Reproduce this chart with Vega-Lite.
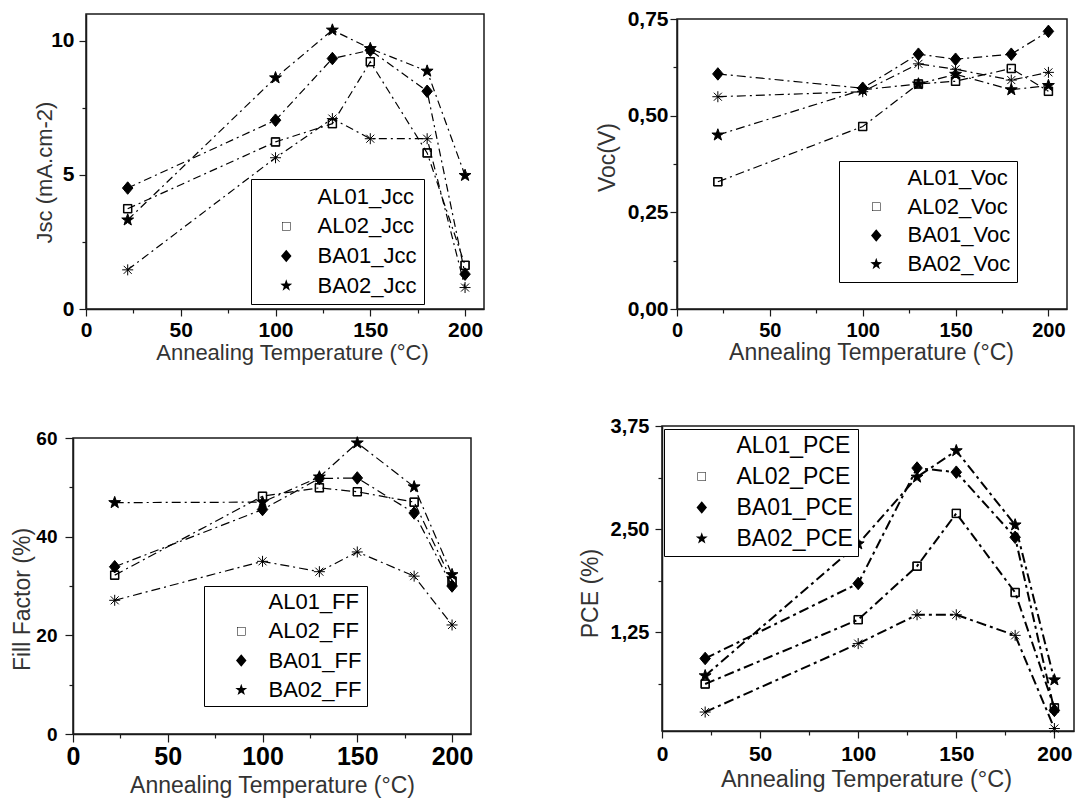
{
  "$schema": "https://vega.github.io/schema/vega-lite/v6.json",
  "background": "white",
  "padding": {"left": 10, "top": 7, "right": 2, "bottom": 2},
  "datasets": {
    "pv": [
      {"T": 22, "s": "AL01", "Jsc": 1.46, "Voc": 0.549, "FF": 27.1, "PCE": 0.28},
      {"T": 100, "s": "AL01", "Jsc": 5.64, "Voc": 0.562, "FF": 35.0, "PCE": 1.11},
      {"T": 130, "s": "AL01", "Jsc": 7.10, "Voc": 0.634, "FF": 32.9, "PCE": 1.46},
      {"T": 150, "s": "AL01", "Jsc": 6.35, "Voc": 0.620, "FF": 36.9, "PCE": 1.46},
      {"T": 180, "s": "AL01", "Jsc": 6.35, "Voc": 0.592, "FF": 32.0, "PCE": 1.21},
      {"T": 200, "s": "AL01", "Jsc": 0.80, "Voc": 0.612, "FF": 22.1, "PCE": 0.08},
      {"T": 22, "s": "AL02", "Jsc": 3.74, "Voc": 0.329, "FF": 32.2, "PCE": 0.62},
      {"T": 100, "s": "AL02", "Jsc": 6.23, "Voc": 0.472, "FF": 48.2, "PCE": 1.40},
      {"T": 130, "s": "AL02", "Jsc": 6.91, "Voc": 0.582, "FF": 49.9, "PCE": 2.05},
      {"T": 150, "s": "AL02", "Jsc": 9.22, "Voc": 0.589, "FF": 49.1, "PCE": 2.69},
      {"T": 180, "s": "AL02", "Jsc": 5.82, "Voc": 0.622, "FF": 47.0, "PCE": 1.73},
      {"T": 200, "s": "AL02", "Jsc": 1.63, "Voc": 0.563, "FF": 31.0, "PCE": 0.33},
      {"T": 22, "s": "BA01", "Jsc": 4.51, "Voc": 0.608, "FF": 33.9, "PCE": 0.93},
      {"T": 100, "s": "BA01", "Jsc": 7.04, "Voc": 0.571, "FF": 45.5, "PCE": 1.84},
      {"T": 130, "s": "BA01", "Jsc": 9.34, "Voc": 0.659, "FF": 51.8, "PCE": 3.24},
      {"T": 150, "s": "BA01", "Jsc": 9.65, "Voc": 0.646, "FF": 51.9, "PCE": 3.19},
      {"T": 180, "s": "BA01", "Jsc": 8.12, "Voc": 0.659, "FF": 44.8, "PCE": 2.40},
      {"T": 200, "s": "BA01", "Jsc": 1.30, "Voc": 0.718, "FF": 30.0, "PCE": 0.30},
      {"T": 22, "s": "BA02", "Jsc": 3.32, "Voc": 0.450, "FF": 46.9, "PCE": 0.72},
      {"T": 100, "s": "BA02", "Jsc": 8.62, "Voc": 0.567, "FF": 47.0, "PCE": 2.32},
      {"T": 130, "s": "BA02", "Jsc": 10.40, "Voc": 0.582, "FF": 52.1, "PCE": 3.13},
      {"T": 150, "s": "BA02", "Jsc": 9.71, "Voc": 0.607, "FF": 59.0, "PCE": 3.45},
      {"T": 180, "s": "BA02", "Jsc": 8.87, "Voc": 0.567, "FF": 50.1, "PCE": 2.55},
      {"T": 200, "s": "BA02", "Jsc": 4.98, "Voc": 0.578, "FF": 32.3, "PCE": 0.67}
    ]
  },
  "bounds": "flush",
  "spacing": 412,
  "resolve": {"scale": {"shape": "independent"}, "legend": {"shape": "independent"}},
  "vconcat": [
    {
      "bounds": "flush",
      "spacing": 12,
      "resolve": {"scale": {"shape": "independent"}, "legend": {"shape": "independent"}},
      "hconcat": [
        {"width": 1, "height": 1, "data": {"values": []}, "mark": "point", "view": {"stroke": null}},
        {
          "bounds": "flush",
          "spacing": 193,
          "resolve": {"scale": {"shape": "independent"}, "legend": {"shape": "independent"}},
          "hconcat": [
            {
              "width": 398, "height": 295,
              "data": {"name": "pv"},
              "resolve": {"scale": {"shape": "independent"}, "legend": {"shape": "independent"}},
              "encoding": {
                "x": {"field": "T", "type": "quantitative", "scale": {"domain": [0, 210], "nice": false, "zero": false},
                  "axis": {"title": "Annealing Temperature (°C)", "values": [0, 25, 50, 75, 100, 125, 150, 175, 200],
                    "labelExpr": "datum.value % 50 == 0 ? datum.label : ''",
                    "tickSize": {"condition": {"test": "datum.value % 50 == 0", "value": 7}, "value": 4},
                    "labelFontSize": 21, "labelPadding": 3, "titleFontSize": 22, "titleX": 206, "titleY": 43, "titleBaseline": "middle"}},
                "y": {"field": "Jsc", "type": "quantitative", "scale": {"domain": [0, 11], "nice": false, "zero": false},
                  "axis": {"title": "Jsc (mA.cm-2)", "values": [0, 2.5, 5, 7.5, 10],
                    "labelExpr": "datum.value % 5 == 0 ? datum.label : ''",
                    "tickSize": {"condition": {"test": "datum.value % 5 == 0", "value": 7}, "value": 4},
                    "labelFontSize": 21, "labelPadding": 5, "titleFontSize": 22, "titleX": -42, "titleY": 158, "titleBaseline": "middle", "titleAngle": 270}}
              },
              "layer": [
                {"mark": {"type": "line", "color": "black", "strokeWidth": 1.2, "strokeDash": [8, 4, 2, 4]}, "encoding": {"detail": {"field": "s"}}},
                {"mark": {"type": "point", "filled": true, "color": "black", "stroke": "black", "strokeWidth": 1, "size": 100, "opacity": 1},
                  "encoding": {
                    "shape": {"field": "s", "type": "nominal", "legend": null,
                      "scale": {"domain": ["AL01", "AL02", "BA01", "BA02"], "range": [
                        "M-1.1,0H1.1M0,-1.1V1.1M-0.8,-0.8L0.8,0.8M-0.8,0.8L0.8,-0.8",
                        "M-0.85,-0.85H0.85V0.85H-0.85ZM-0.75,-0.75V0.75H0.75V-0.75Z",
                        "M0,-1.25L1.05,0L0,1.25L-1.05,0Z",
                        "M0,-1.25L0.294,-0.405L1.189,-0.386L0.476,0.155L0.735,1.011L0,0.5L-0.735,1.011L-0.476,0.155L-1.189,-0.386L-0.294,-0.405Z"]}}}},
                {"mark": {"type": "point", "filled": true, "color": "black", "stroke": "black", "strokeWidth": 1.2, "size": 100, "opacity": 0},
                  "encoding": {
                    "shape": {"field": "s", "type": "nominal",
                      "scale": {"domain": ["AL01", "AL02", "BA01", "BA02"], "range": [
                        "M-1.85,0H0.55M5.75,0H7.55M8.35,0H8.75M2.45,0H4.65M3.55,-1.1V1.1M2.75,-0.8L4.35,0.8M2.75,0.8L4.35,-0.8",
                        "M-1.85,0H0.55M5.75,0H7.55M8.35,0H8.75M2.7,-0.85H4.4V0.85H2.7ZM2.8,-0.75V0.75H4.3V-0.75Z",
                        "M-1.85,0H0.55M5.75,0H7.55M8.35,0H8.75M3.55,-1.25L4.6,0L3.55,1.25L2.5,0Z",
                        "M-1.85,0H0.55M5.75,0H7.55M8.35,0H8.75M3.55,-1.25L3.844,-0.405L4.739,-0.386L4.026,0.155L4.285,1.011L3.55,0.5L2.815,1.011L3.074,0.155L2.361,-0.386L3.256,-0.405Z"]},
                      "legend": {"orient": "none", "legendX": 165, "legendY": 165, "title": null, "labelExpr": "datum.label + '_Jcc'",
                        "strokeColor": "black", "fillColor": "white", "padding": 6.5, "rowPadding": 7.7, "labelFontSize": 22, "labelColor": "black", "labelOffset": 38, "symbolSize": 100, "symbolOpacity": 1, "symbolStrokeColor": "black", "symbolFillColor": "black", "symbolStrokeWidth": 1.2, "labelLimit": 300,
                        "encode": {
                          "legend": {"strokeWidth": {"value": 1.5}},
                          "symbols": {"fill": {"value": "black"}, "stroke": {"value": "black"}, "strokeWidth": {"value": 1.2}, "opacity": {"value": 1}}
                        }}}}}
              ]
            },
            {
              "bounds": "flush",
              "spacing": 4,
              "resolve": {"scale": {"shape": "independent"}, "legend": {"shape": "independent"}},
              "vconcat": [
                {"width": 1, "height": 1, "data": {"values": []}, "mark": "point", "view": {"stroke": null}},
                {
                  "width": 390, "height": 290,
                  "data": {"name": "pv"},
                  "resolve": {"scale": {"shape": "independent"}, "legend": {"shape": "independent"}},
                  "encoding": {
                    "x": {"field": "T", "type": "quantitative", "scale": {"domain": [0, 210], "nice": false, "zero": false},
                      "axis": {"title": "Annealing Temperature (°C)", "values": [0, 25, 50, 75, 100, 125, 150, 175, 200],
                        "labelExpr": "datum.value % 50 == 0 ? datum.label : ''",
                        "tickSize": {"condition": {"test": "datum.value % 50 == 0", "value": 7}, "value": 4},
                        "labelFontSize": 20, "labelPadding": 4, "titleFontSize": 23, "titleX": 194, "titleY": 43, "titleBaseline": "middle"}},
                    "y": {"field": "Voc", "type": "quantitative", "scale": {"domain": [0, 0.75], "nice": false, "zero": false},
                      "axis": {"title": "Voc(V)", "values": [0, 0.125, 0.25, 0.375, 0.5, 0.625, 0.75],
                        "labelExpr": "(datum.value * 4) % 1 == 0 ? replace(format(datum.value, '.2f'), '.', ',') : ''",
                        "tickSize": {"condition": {"test": "(datum.value * 4) % 1 == 0", "value": 7}, "value": 4},
                        "labelFontSize": 21, "labelPadding": 2, "titleFontSize": 23, "titleX": -70, "titleY": 138, "titleBaseline": "middle", "titleAngle": 270}}
                  },
                  "layer": [
                    {"mark": {"type": "line", "color": "black", "strokeWidth": 1.2, "strokeDash": [9, 4, 2, 4]}, "encoding": {"detail": {"field": "s"}}},
                    {"mark": {"type": "point", "filled": true, "color": "black", "stroke": "black", "strokeWidth": 1, "size": 100, "opacity": 1},
                      "encoding": {
                        "shape": {"field": "s", "type": "nominal", "legend": null,
                          "scale": {"domain": ["AL01", "AL02", "BA01", "BA02"], "range": [
                            "M-1.1,0H1.1M0,-1.1V1.1M-0.8,-0.8L0.8,0.8M-0.8,0.8L0.8,-0.8",
                            "M-0.85,-0.85H0.85V0.85H-0.85ZM-0.75,-0.75V0.75H0.75V-0.75Z",
                            "M0,-1.25L1.05,0L0,1.25L-1.05,0Z",
                            "M0,-1.25L0.294,-0.405L1.189,-0.386L0.476,0.155L0.735,1.011L0,0.5L-0.735,1.011L-0.476,0.155L-1.189,-0.386L-0.294,-0.405Z"]}}}},
                    {"mark": {"type": "point", "filled": true, "color": "black", "stroke": "black", "strokeWidth": 1.2, "size": 100, "opacity": 0},
                      "encoding": {
                        "shape": {"field": "s", "type": "nominal",
                          "scale": {"domain": ["AL01", "AL02", "BA01", "BA02"], "range": [
                            "M-0.95,0H1.05M5.65,0H8.05M9.25,0H9.65M2.95,0H5.15M4.05,-1.1V1.1M3.25,-0.8L4.85,0.8M3.25,0.8L4.85,-0.8",
                            "M-0.95,0H1.05M5.65,0H8.05M9.25,0H9.65M3.2,-0.85H4.9V0.85H3.2ZM3.3,-0.75V0.75H4.8V-0.75Z",
                            "M-0.95,0H1.05M5.65,0H8.05M9.25,0H9.65M4.05,-1.25L5.1,0L4.05,1.25L3,0Z",
                            "M-0.95,0H1.05M5.65,0H8.05M9.25,0H9.65M4.05,-1.25L4.344,-0.405L5.239,-0.386L4.526,0.155L4.785,1.011L4.05,0.5L3.315,1.011L3.574,0.155L2.861,-0.386L3.756,-0.405Z"]},
                          "legend": {"orient": "none", "legendX": 162, "legendY": 142, "title": null, "labelExpr": "datum.label + '_Voc'",
                            "strokeColor": "black", "fillColor": "white", "padding": 6, "rowPadding": 6.7, "labelFontSize": 22, "labelColor": "black", "labelOffset": 40.5, "symbolSize": 100, "symbolOpacity": 1, "symbolStrokeColor": "black", "symbolFillColor": "black", "symbolStrokeWidth": 1.2, "labelLimit": 300,
                            "encode": {
                              "legend": {"strokeWidth": {"value": 1.5}},
                              "symbols": {"fill": {"value": "black"}, "stroke": {"value": "black"}, "strokeWidth": {"value": 1.2}, "opacity": {"value": 1}}
                            }}}}}
                  ]
                }
              ]
            }
          ]
        }
      ]
    },
    {
      "bounds": "flush",
      "spacing": 589,
      "resolve": {"scale": {"shape": "independent"}, "legend": {"shape": "independent"}},
      "hconcat": [
        {
          "bounds": "flush",
          "spacing": 11,
          "resolve": {"scale": {"shape": "independent"}, "legend": {"shape": "independent"}},
          "vconcat": [
            {"width": 1, "height": 1, "data": {"values": []}, "mark": "point", "view": {"stroke": null}},
            {
              "width": 398, "height": 296,
              "data": {"name": "pv"},
              "resolve": {"scale": {"shape": "independent"}, "legend": {"shape": "independent"}},
              "encoding": {
                "x": {"field": "T", "type": "quantitative", "scale": {"domain": [0, 210], "nice": false, "zero": false},
                  "axis": {"title": "Annealing Temperature (°C)", "values": [0, 25, 50, 75, 100, 125, 150, 175, 200],
                    "labelExpr": "datum.value % 50 == 0 ? datum.label : ''",
                    "tickSize": {"condition": {"test": "datum.value % 50 == 0", "value": 8}, "value": 4},
                    "labelFontSize": 25, "labelPadding": 2, "titleFontSize": 23, "titleX": 199, "titleY": 51, "titleBaseline": "middle"}},
                "y": {"field": "FF", "type": "quantitative", "scale": {"domain": [0, 60], "nice": false, "zero": false},
                  "axis": {"title": "Fill Factor (%)", "values": [0, 10, 20, 30, 40, 50, 60],
                    "labelExpr": "datum.value % 20 == 0 ? datum.label : ''",
                    "tickSize": {"condition": {"test": "datum.value % 20 == 0", "value": 8}, "value": 4},
                    "labelFontSize": 19, "labelPadding": 8, "titleFontSize": 23, "titleX": -51, "titleY": 161, "titleBaseline": "middle", "titleAngle": 270}}
              },
              "layer": [
                {"mark": {"type": "line", "color": "black", "strokeWidth": 1.2, "strokeDash": [9, 4, 2, 4]}, "encoding": {"detail": {"field": "s"}}},
                {"mark": {"type": "point", "filled": true, "color": "black", "stroke": "black", "strokeWidth": 1, "size": 100, "opacity": 1},
                  "encoding": {
                    "shape": {"field": "s", "type": "nominal", "legend": null,
                      "scale": {"domain": ["AL01", "AL02", "BA01", "BA02"], "range": [
                        "M-1.1,0H1.1M0,-1.1V1.1M-0.8,-0.8L0.8,0.8M-0.8,0.8L0.8,-0.8",
                        "M-0.85,-0.85H0.85V0.85H-0.85ZM-0.75,-0.75V0.75H0.75V-0.75Z",
                        "M0,-1.25L1.05,0L0,1.25L-1.05,0Z",
                        "M0,-1.25L0.294,-0.405L1.189,-0.386L0.476,0.155L0.735,1.011L0,0.5L-0.735,1.011L-0.476,0.155L-1.189,-0.386L-0.294,-0.405Z"]}}}},
                {"mark": {"type": "point", "filled": true, "color": "black", "stroke": "black", "strokeWidth": 1.2, "size": 100, "opacity": 0},
                  "encoding": {
                    "shape": {"field": "s", "type": "nominal",
                      "scale": {"domain": ["AL01", "AL02", "BA01", "BA02"], "range": [
                        "M-1.35,0H0.85M6.25,0H8.65M3.15,0H5.35M4.25,-1.1V1.1M3.45,-0.8L5.05,0.8M3.45,0.8L5.05,-0.8",
                        "M-1.35,0H0.85M6.25,0H8.65M3.4,-0.85H5.1V0.85H3.4ZM3.5,-0.75V0.75H5V-0.75Z",
                        "M-1.35,0H0.85M6.25,0H8.65M4.25,-1.25L5.3,0L4.25,1.25L3.2,0Z",
                        "M-1.35,0H0.85M6.25,0H8.65M4.25,-1.25L4.544,-0.405L5.439,-0.386L4.726,0.155L4.985,1.011L4.25,0.5L3.515,1.011L3.774,0.155L3.061,-0.386L3.956,-0.405Z"]},
                      "legend": {"orient": "none", "legendX": 131, "legendY": 148, "title": null, "labelExpr": "datum.label + '_FF'",
                        "strokeColor": "black", "fillColor": "white", "padding": 5, "rowPadding": 7.3, "labelFontSize": 22, "labelColor": "black", "labelOffset": 37.5, "symbolSize": 100, "symbolOpacity": 1, "symbolStrokeColor": "black", "symbolFillColor": "black", "symbolStrokeWidth": 1.2, "labelLimit": 300,
                        "encode": {
                          "legend": {"strokeWidth": {"value": 1.5}},
                          "symbols": {"fill": {"value": "black"}, "stroke": {"value": "black"}, "strokeWidth": {"value": 1.2}, "opacity": {"value": 1}}
                        }}}}}
              ]
            }
          ]
        },
        {
          "width": 412, "height": 305,
          "data": {"name": "pv"},
          "resolve": {"scale": {"shape": "independent"}, "legend": {"shape": "independent"}},
          "encoding": {
            "x": {"field": "T", "type": "quantitative", "scale": {"domain": [0, 210], "nice": false, "zero": false},
              "axis": {"title": "Annealing Temperature (°C)", "values": [0, 25, 50, 75, 100, 125, 150, 175, 200],
                "labelExpr": "datum.value % 50 == 0 ? datum.label : ''",
                "tickSize": {"condition": {"test": "datum.value % 50 == 0", "value": 7}, "value": 4},
                "labelFontSize": 21, "labelPadding": 5, "titleFontSize": 23.5, "titleX": 204, "titleY": 48, "titleBaseline": "middle"}},
            "y": {"field": "PCE", "type": "quantitative", "scale": {"domain": [0.05, 3.75], "nice": false, "zero": false},
              "axis": {"title": "PCE (%)", "values": [0.625, 1.25, 1.875, 2.5, 3.125, 3.75],
                "labelExpr": "(datum.value / 1.25) % 1 == 0 ? replace(format(datum.value, '.2f'), '.', ',') : ''",
                "tickSize": {"condition": {"test": "(datum.value / 1.25) % 1 == 0", "value": 7}, "value": 4},
                "labelFontSize": 20, "labelPadding": 6, "titleFontSize": 23, "titleX": -72, "titleY": 167, "titleBaseline": "middle", "titleAngle": 270}}
          },
          "layer": [
            {"mark": {"type": "line", "color": "black", "strokeWidth": 2, "strokeDash": [10, 4, 3, 4]}, "encoding": {"detail": {"field": "s"}}},
            {"mark": {"type": "point", "filled": true, "color": "black", "stroke": "black", "strokeWidth": 1, "size": 100, "opacity": 1},
              "encoding": {
                "shape": {"field": "s", "type": "nominal", "legend": null,
                  "scale": {"domain": ["AL01", "AL02", "BA01", "BA02"], "range": [
                    "M-1.1,0H1.1M0,-1.1V1.1M-0.8,-0.8L0.8,0.8M-0.8,0.8L0.8,-0.8",
                    "M-0.85,-0.85H0.85V0.85H-0.85ZM-0.75,-0.75V0.75H0.75V-0.75Z",
                    "M0,-1.25L1.05,0L0,1.25L-1.05,0Z",
                    "M0,-1.25L0.294,-0.405L1.189,-0.386L0.476,0.155L0.735,1.011L0,0.5L-0.735,1.011L-0.476,0.155L-1.189,-0.386L-0.294,-0.405Z"]}}}},
            {"mark": {"type": "point", "filled": true, "color": "black", "stroke": "black", "strokeWidth": 1.8, "size": 100, "opacity": 0},
              "encoding": {
                "shape": {"field": "s", "type": "nominal",
                  "scale": {"domain": ["AL01", "AL02", "BA01", "BA02"], "range": [
                    "M-1.35,0H1.25M2.1,0H2.5M5.85,0H8.25M9.1,0H9.5M3.15,0H5.35M4.25,-1.1V1.1M3.45,-0.8L5.05,0.8M3.45,0.8L5.05,-0.8",
                    "M-1.35,0H1.25M2.1,0H2.5M5.85,0H8.25M9.1,0H9.5M3.4,-0.85H5.1V0.85H3.4ZM3.5,-0.75V0.75H5V-0.75Z",
                    "M-1.35,0H1.25M2.1,0H2.5M5.85,0H8.25M9.1,0H9.5M4.25,-1.25L5.3,0L4.25,1.25L3.2,0Z",
                    "M-1.35,0H1.25M2.1,0H2.5M5.85,0H8.25M9.1,0H9.5M4.25,-1.25L4.544,-0.405L5.439,-0.386L4.726,0.155L4.985,1.011L4.25,0.5L3.515,1.011L3.774,0.155L3.061,-0.386L3.956,-0.405Z"]},
                  "legend": {"orient": "none", "legendX": 2, "legendY": 3, "title": null, "labelExpr": "datum.label + '_PCE'",
                    "strokeColor": "black", "fillColor": "white", "padding": 5, "rowPadding": 7, "labelFontSize": 23, "labelColor": "black", "labelOffset": 44.5, "symbolSize": 100, "symbolOpacity": 1, "symbolStrokeColor": "black", "symbolFillColor": "black", "symbolStrokeWidth": 1.8, "labelLimit": 300,
                    "encode": {
                      "legend": {"strokeWidth": {"value": 1.5}},
                      "symbols": {"fill": {"value": "black"}, "stroke": {"value": "black"}, "strokeWidth": {"value": 1.8}, "opacity": {"value": 1}}
                    }}}}}
          ]
        }
      ]
    }
  ],
  "config": {
    "font": "Liberation Sans",
    "view": {"stroke": "#1a1a1a", "strokeWidth": 1.5},
    "axis": {"domainColor": "#1a1a1a", "domainWidth": 1.5, "tickColor": "#1a1a1a", "tickWidth": 1.2, "labelColor": "black", "labelFontWeight": "bold", "labelFont": "Liberation Sans", "titleFont": "Liberation Sans", "titleFontWeight": "normal", "titleColor": "#333333", "grid": false, "labelFlush": false, "labelOverlap": false},
    "legend": {"labelFont": "Liberation Sans"}
  }
}
